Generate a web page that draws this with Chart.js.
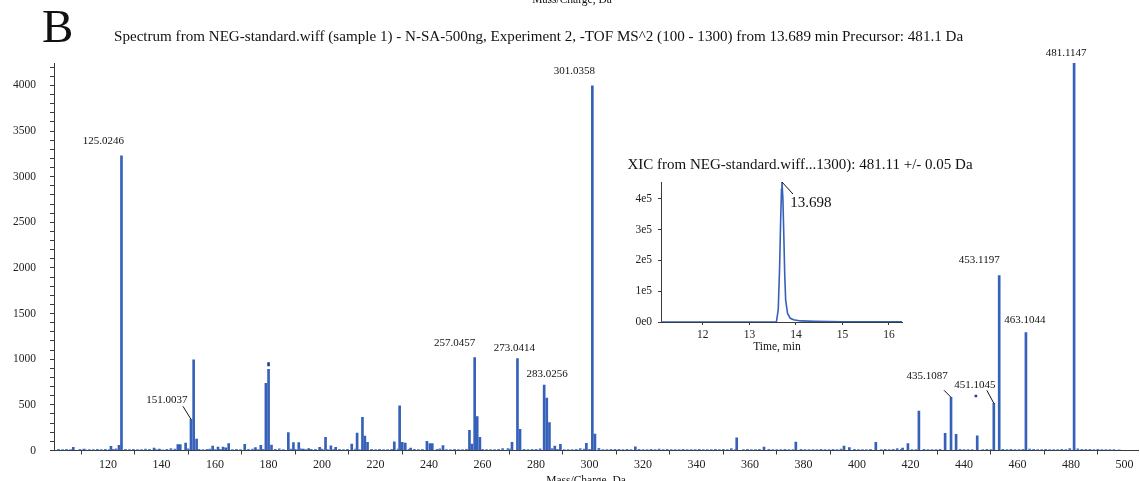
<!DOCTYPE html>
<html><head><meta charset="utf-8">
<script src="https://cdn.jsdelivr.net/npm/chart.js@4.4.1/dist/chart.umd.min.js"></script>
<style>
html,body{margin:0;padding:0;background:#fff;}
#wrap{position:relative;width:1140px;height:481px;overflow:hidden;background:#fff;}
#main{position:absolute;left:0;top:0;}
#inset{position:absolute;left:600px;top:150px;}
</style></head><body>
<div id="wrap"><canvas id="main" width="1140" height="481"></canvas><canvas id="inset" width="380" height="210"></canvas></div>
<script>
// ---------- DATA ----------
const peakMz = [107.0,111.0,121.1,124.1,125.0246,137.2,139.2,146.1,147.0,149.0,151.0037,152.0,153.1,159.1,161.1,163.0,164.0,165.1,
  171.1,175.1,177.1,179.0,180.0,181.1,187.4,189.3,191.3,193.0,195.0,199.1,201.3,203.3,205.1,211.1,213.1,215.1,216.0,217.0,
  227.0,229.0,230.0,231.1,233.1,239.2,240.3,241.2,245.2,255.1,256.0,257.0457,258.0,259.0,271.0,273.0414,274.0,
  283.0256,284.0,285.0,287.0,289.1,298.8,301.0358,302.0,317.1,355.0,365.2,377.1,395.1,397.1,407.0,417.0,419.0,423.1,
  432.9,435.1087,437.0,444.9,451.1045,453.1197,463.1044,481.1147];
const peakInt = [35,16,46,57,3227,27,15,64,64,82,342,992,126,49,38,38,29,75,
  68,31,57,736,890,60,195,86,86,16,20,35,145,50,35,71,192,364,159,90,
  96,488,89,82,27,101,77,77,55,221,71,1017,371,145,90,1006,232,
  718,575,305,49,68,79,3995,181,40,140,38,93,49,31,90,27,75,433,
  188,583,177,162,517,1916,1291,4245];
const labelMz = [125.0246,151.0037,257.0457,273.0414,283.0256,301.0358,435.1087,451.1045,453.1197,463.1044,481.1147];
const markMz = [180.0,444.4];
const markRange = [[926,962],[586,608]];
const noisePeaks = [
[101.5,12],[103,9],[104.5,14],[106,10],[109.5,13],[111.5,8],[113,11],[114.5,9],[116,12],[117.5,10],
[119,14],[120.5,9],[122,13],[123,18],[126.5,12],[128,10],[129.5,14],[131,11],[132.5,9],[134,16],
[135.5,12],[138,10],[140.5,8],[142,13],[143.5,20],[145,15],[150,18],[154,14],[155.5,10],[157,12],
[158,16],[160,11],[162,14],[166.5,10],[168,13],[169.5,9],[172.5,12],[174,15],[176,11],[178,14],
[182.5,13],[184,18],[185.5,11],[188.5,15],[190,12],[192,17],[194,10],[196,14],[197.5,12],[200,16],
[202,11],[204.5,13],[206.5,14],[208,9],[209.5,12],[212.5,15],[214,11],[218.5,13],[220,10],[221.5,12],
[223,9],[224.5,11],[226,13],[228.5,15],[232.5,12],[234.5,14],[236,10],[237.5,12],[243,13],[244,18],
[246.5,11],[248,9],[249.5,12],[251,10],[252.5,11],[254,14],[260,12],[261.5,10],[263,9],[264.5,11],
[266,13],[267.5,20],[269.5,22],[270.5,15],[275.5,14],[277,11],[278.5,12],[280,13],[281.5,18],[286,20],
[288,12],[290.5,10],[292,11],[293.5,9],[295,13],[296.5,22],[298,15],[300,13],[303.5,25],[305,11],
[306.5,10],[308,13],[309.5,12],[311,14],[312.5,11],[314,13],[315.5,10],[318.5,12],[320,11],[321.5,9],
[323,12],[324.5,10],[326,16],[327.5,11],[329,14],[330.5,9],[332,11],[333.5,10],[335,12],[336.5,9],
[338,11],[339.5,10],[341,12],[342.5,9],[344,11],[345.5,10],[347,13],[348.5,9],[350,12],[351.5,10],
[353,20],[354.5,11],[357.5,10],[359,12],[360.5,9],[362,11],[363.5,14],[367,12],[368.5,10],[370,11],
[371.5,9],[373,12],[374.5,10],[376,11],[379,12],[380.5,10],[382,9],[383.5,11],[385,10],[386.5,12],
[388,9],[389.5,11],[391,14],[392.5,10],[394,16],[399,13],[400.5,10],[402,11],[403.5,9],[405,12],
[409,11],[410.5,13],[412,10],[413.5,12],[415,22],[416.5,14],[420.5,11],[422,9],[425,12],[426.5,10],
[428,11],[429.5,9],[431,12],[438.5,13],[440,10],[441.5,11],[443,9],[447,10],[448.5,12],[450,11],
[454.5,13],[456,11],[457.5,12],[459,10],[460.5,11],[462,13],[464.5,15],[466,12],[467.5,11],[469,10],
[470.5,12],[472,9],[473.5,11],[475,10],[476.5,12],[478,11],[479.5,22],[482.5,18],[484,14],[485.5,12],
[487,13],[488.5,11],[490,12],[491.5,10],[493,11],[494.5,9],[496,10],[498,8]
];
const xicTime = [11.10,12.0,13.0,13.58,13.62,13.65,13.67,13.69,13.70,13.72,13.74,13.76,13.78,13.82,13.88,13.95,14.1,14.4,15.0,15.6,16.28];
const xicInt  = [0,0,0,0,40000,180000,320000,430000,454000,400000,280000,150000,70000,28000,12000,7000,3500,2000,800,400,300];
const xicApex = 13.698;
const xicYTicks = [0,100000,200000,300000,400000];
const xicYLabels = ['0e0','1e5','2e5','3e5','4e5'];

// ---------- STYLE ----------
const FONT = '"Liberation Serif","Times New Roman",serif';
const BLUE = '#3561b9';
const LIGHT = '#4c78c8';
const AX = '#3a3a3a';
const labelStyle = {
  '125.0246':{dx:-18,dy:-15},
  '151.0037':{dx:-24,dy:-19,lead:[-8,-13]},
  '257.0457':{dx:-20,dy:-15},
  '273.0414':{dx:-3,dy:-11},
  '283.0256':{dx:3,dy:-11},
  '301.0358':{dx:-18,dy:-15},
  '435.1087':{dx:-24,dy:-21,lead:[-7,-7]},
  '451.1045':{dx:-19,dy:-18,lead:[-7,-13]},
  '453.1197':{dx:-20,dy:-15},
  '463.1044':{dx:-1,dy:-13},
  '481.1147':{dx:-8,dy:-10}
};

const mainAnnot = {
  id:'mainAnnot',
  afterDraw(chart){
    const {ctx, scales:{x,y}} = chart;
    ctx.save();
    ctx.fillStyle = '#111';
    ctx.textBaseline = 'alphabetic';
    ctx.textAlign = 'left';
    ctx.font = `47px ${FONT}`;
    ctx.fillText('B', 42, 42);
    ctx.font = `15.1px ${FONT}`;
    ctx.fillText('Spectrum from NEG-standard.wiff (sample 1) - N-SA-500ng, Experiment 2, -TOF MS^2 (100 - 1300) from 13.689 min Precursor: 481.1 Da', 114, 41);
    ctx.textAlign = 'center';
    ctx.font = `11.5px ${FONT}`;
    ctx.fillText('Mass/Charge, Da', 572, 3);
    ctx.fillText('Mass/Charge, Da', 586, 484);
    ctx.font = `11px ${FONT}`;
    ctx.textBaseline = 'middle';
    ctx.strokeStyle = '#111';
    ctx.lineWidth = 1;
    labelMz.forEach(m => {
      const i = peakMz.indexOf(m);
      const px = x.getPixelForValue(m);
      const py = y.getPixelForValue(peakInt[i]);
      const t = m.toFixed(4);
      const st = labelStyle[t];
      ctx.fillText(t, px + st.dx, py + st.dy);
      if (st.lead) {
        ctx.beginPath();
        ctx.moveTo(px + st.lead[0], py + st.lead[1]);
        ctx.lineTo(px, py);
        ctx.stroke();
      }
    });
    ctx.restore();
  }
};

const mainChart = new Chart(document.getElementById('main'), {
  type:'bar',
  data:{datasets:[
    {label:'noise', data: noisePeaks.map(([m,v]) => ({x:m, y:v})), backgroundColor:LIGHT, barThickness:2, grouped:false},
    {label:'peaks', data: peakMz.map((m,i) => ({x:m, y:peakInt[i]})), backgroundColor:BLUE, barThickness:2, grouped:false},
    {label:'marks', data: markMz.map((m,i) => ({x:m, y:markRange[i]})), backgroundColor:'#22409a', barThickness:2, grouped:false}
  ]},
  options:{
    responsive:false, animation:false, devicePixelRatio:1,
    layout:{padding:{top:63,right:2,left:0,bottom:0}},
    plugins:{legend:{display:false}, tooltip:{enabled:false}},
    scales:{
      x:{type:'linear', min:99.8, max:505, offset:false,
        grid:{display:true, drawOnChartArea:false, drawTicks:true, tickLength:4, color:AX},
        border:{display:true, color:AX, width:1},
        ticks:{stepSize:20, includeBounds:false, autoSkip:false, maxRotation:0, padding:3, color:'#222',
          font:{family:FONT, size:12}, callback:v => v >= 110 ? String(v) : ''},
        afterFit:s => { s.height = 30.5; }
      },
      y:{type:'linear', min:0, max:4245,
        grid:{display:true, drawOnChartArea:false, drawTicks:true, tickLength:4, color:AX},
        border:{display:true, color:AX, width:1},
        ticks:{stepSize:100, includeBounds:false, autoSkip:false, padding:14, color:'#222',
          font:{family:FONT, size:11.5}, callback:v => v % 500 === 0 ? String(v) : ''},
        afterFit:s => { s.width = 54; }
      }
    }
  },
  plugins:[mainAnnot]
});

const insetAnnot = {
  id:'insetAnnot',
  afterDraw(chart){
    const {ctx, scales:{x,y}} = chart;
    ctx.save();
    ctx.fillStyle = '#111';
    ctx.textAlign = 'center';
    ctx.textBaseline = 'middle';
    ctx.font = `15px ${FONT}`;
    ctx.fillText('XIC from NEG-standard.wiff...1300): 481.11 +/- 0.05 Da', 200, 15);
    ctx.font = `11.5px ${FONT}`;
    ctx.fillText('Time, min', 177, 197);
    const i = xicInt.indexOf(Math.max(...xicInt));
    const px = x.getPixelForValue(xicTime[i]);
    const py = y.getPixelForValue(xicInt[i]);
    ctx.strokeStyle = '#111'; ctx.lineWidth = 1;
    ctx.beginPath(); ctx.moveTo(px, py); ctx.lineTo(px + 11, py + 12); ctx.stroke();
    ctx.font = `15px ${FONT}`;
    ctx.fillText(xicApex.toFixed(3), px + 29, py + 21);
    ctx.restore();
  }
};

const insetChart = new Chart(document.getElementById('inset'), {
  type:'scatter',
  data:{datasets:[{data: xicTime.map((t,i) => ({x:t, y:xicInt[i]})), showLine:true, borderColor:BLUE,
    borderWidth:1.6, pointRadius:0, tension:0, fill:false}]},
  options:{
    responsive:false, animation:false, devicePixelRatio:1,
    layout:{padding:{top:32,right:78,left:0,bottom:0}},
    plugins:{legend:{display:false}, tooltip:{enabled:false}},
    scales:{
      x:{type:'linear', min:11.1, max:16.28,
        grid:{display:true, drawOnChartArea:false, tickLength:3, color:AX},
        border:{display:true, color:AX},
        ticks:{stepSize:1, includeBounds:false, autoSkip:false, maxRotation:0, padding:3, color:'#222',
          font:{family:FONT, size:11.5}, callback:v => Number.isInteger(v) ? String(v) : ''},
        afterFit:s => { s.height = 38; }
      },
      y:{type:'linear', min:0, max:454000,
        grid:{display:true, drawOnChartArea:false, tickLength:3, color:AX},
        border:{display:true, color:AX},
        afterBuildTicks:s => { s.ticks = xicYTicks.map(v => ({value:v})); },
        ticks:{autoSkip:false, padding:6, color:'#222',
          font:{family:FONT, size:11.5}, callback:v => xicYLabels[xicYTicks.indexOf(v)]},
        afterFit:s => { s.width = 61; }
      }
    }
  },
  plugins:[insetAnnot]
});
</script>
</body></html>
